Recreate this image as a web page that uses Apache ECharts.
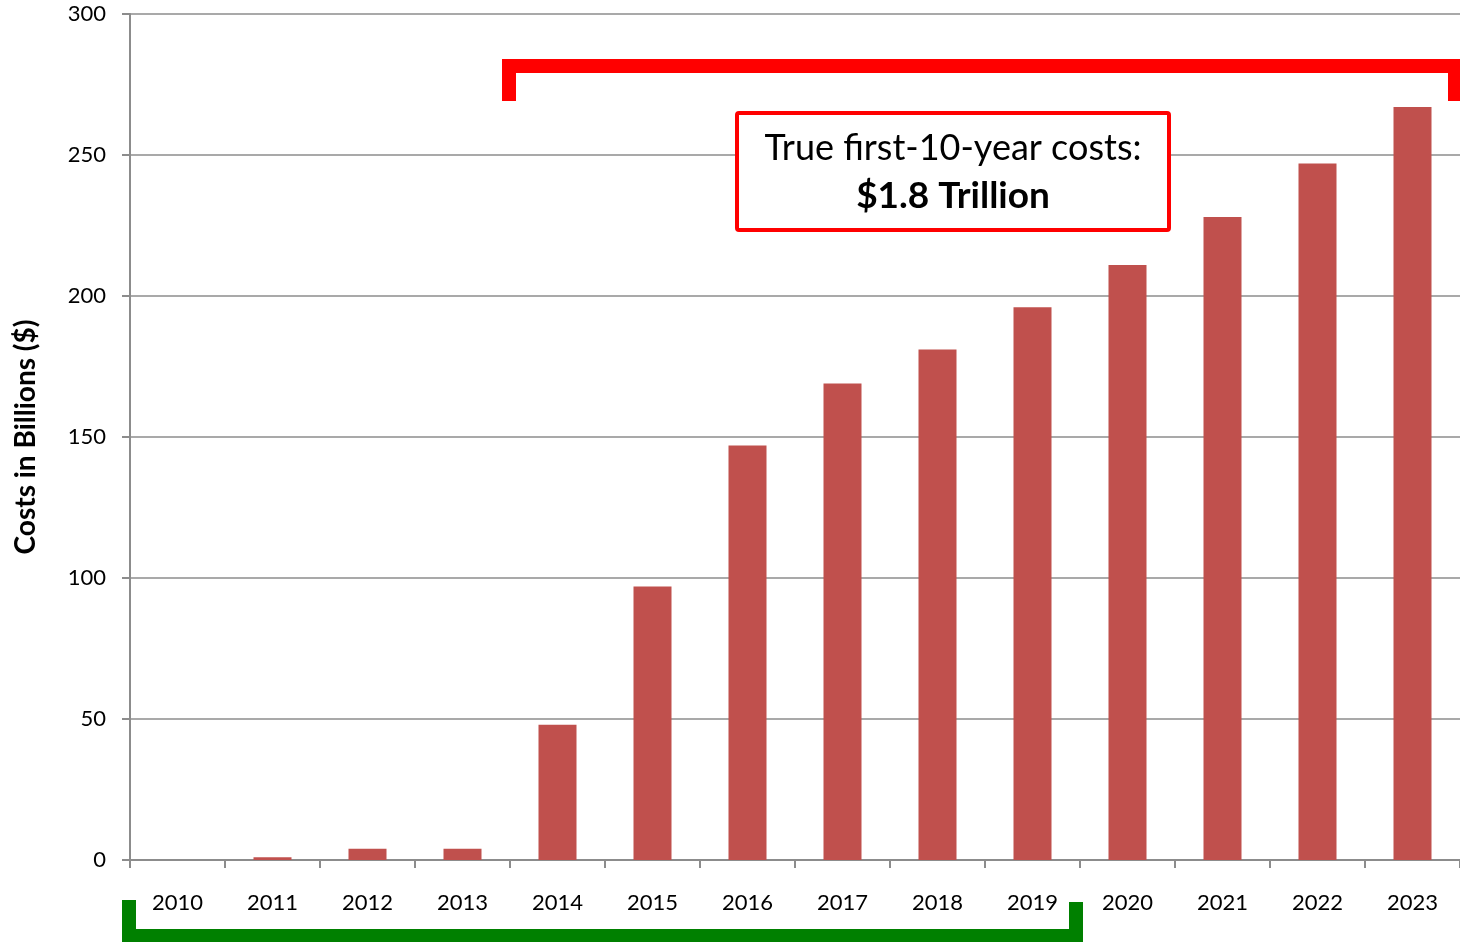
<!DOCTYPE html>
<html>
<head>
<meta charset="utf-8">
<script src="https://cdn.jsdelivr.net/npm/echarts@6/dist/echarts.min.js"></script>
<style>
html,body{margin:0;padding:0;background:#fff;}
#chart{width:1460px;height:942px;}
</style>
</head>
<body>
<div id="chart"></div>
<script>
const years = ['2010','2011','2012','2013','2014','2015','2016','2017','2018','2019','2020','2021','2022','2023'];
const costs = [0, 1, 4, 4, 48, 97, 147, 169, 181, 196, 211, 228, 247, 267];
const yTicks = {min: 0, max: 300, interval: 50};
const axisName = 'Costs in Billions ($)';
const noteLine1 = 'True first-10-year costs:';
const noteLine2 = '$1.8 Trillion';

const FONT = 'Lato, "Open Sans", sans-serif';
const chart = echarts.init(document.getElementById('chart'));
chart.setOption({
  animation: false,
  backgroundColor: '#fff',
  grid: {left: 130, width: 1333, top: 14, height: 846, containLabel: false},
  xAxis: {
    type: 'category',
    data: years,
    boundaryGap: true,
    axisLine: {lineStyle: {color: '#8c8c8c', width: 2}},
    axisTick: {show: true, alignWithLabel: false, length: 8, lineStyle: {color: '#8c8c8c', width: 2}},
    axisLabel: {color: '#000', fontSize: 22, fontFamily: FONT, margin: 32}
  },
  yAxis: {
    type: 'value',
    min: yTicks.min, max: yTicks.max, interval: yTicks.interval,
    name: axisName,
    nameLocation: 'middle',
    nameGap: 90,
    nameRotate: 90,
    nameTextStyle: {color: '#000', fontSize: 28, fontWeight: 'bold', fontFamily: FONT},
    axisLine: {show: true, lineStyle: {color: '#8c8c8c', width: 2}},
    axisTick: {show: true, length: 8, lineStyle: {color: '#8c8c8c', width: 2}},
    axisLabel: {color: '#000', fontSize: 22, fontFamily: FONT, margin: 24},
    splitLine: {show: true, lineStyle: {color: '#8c8c8c', width: 1.5}}
  },
  series: [{
    type: 'bar',
    data: costs,
    barWidth: '40%',
    itemStyle: {color: '#C0504D'}
  }],
  graphic: [
    // red bracket
    {type: 'rect', z: 10, shape: {x: 502, y: 59, width: 958, height: 14}, style: {fill: '#ff0000'}},
    {type: 'rect', z: 10, shape: {x: 502, y: 59, width: 14, height: 42}, style: {fill: '#ff0000'}},
    {type: 'rect', z: 10, shape: {x: 1448, y: 59, width: 12, height: 42}, style: {fill: '#ff0000'}},
    // note box
    {type: 'rect', z: 10, shape: {x: 737, y: 113, width: 432, height: 117, r: 2},
      style: {fill: '#fff', stroke: '#ff0000', lineWidth: 4}},
    {type: 'text', z: 11, x: 953, y: 148,
      style: {text: noteLine1, fill: '#000', font: '36px ' + FONT, textAlign: 'center', textVerticalAlign: 'middle'}},
    {type: 'text', z: 11, x: 953, y: 196,
      style: {text: noteLine2, fill: '#000', font: 'bold 37px ' + FONT, textAlign: 'center', textVerticalAlign: 'middle'}},
    // green bracket
    {type: 'rect', z: 10, shape: {x: 122, y: 929, width: 961, height: 13}, style: {fill: '#008000'}},
    {type: 'rect', z: 10, shape: {x: 122, y: 900, width: 14, height: 42}, style: {fill: '#008000'}},
    {type: 'rect', z: 10, shape: {x: 1069, y: 902, width: 14, height: 40}, style: {fill: '#008000'}}
  ]
});
</script>
</body>
</html>
